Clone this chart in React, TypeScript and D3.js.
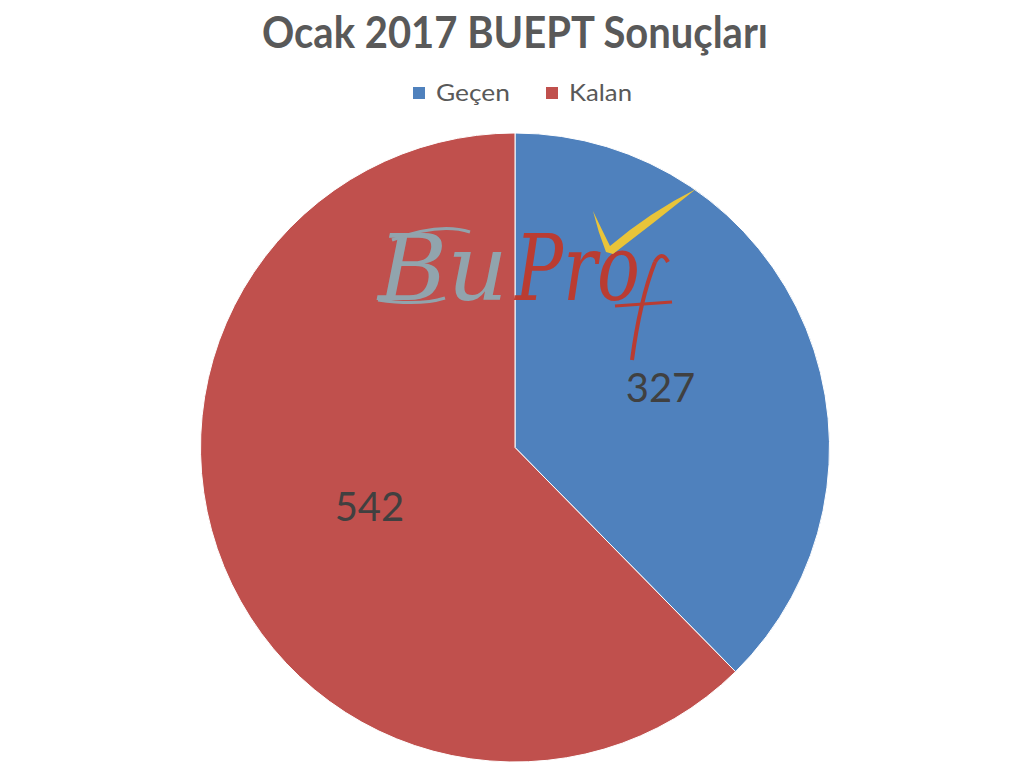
import React from "react";
import * as d3 from "d3";

const title = "Ocak 2017 BUEPT Sonuçları";
const categories = ["Geçen", "Kalan"];
const values = [327, 542];
const colors = ["#4F81BD", "#C0504D"];

const W = 1010;
const H = 772;
const cx = 515;
const cy = 447.5;
const R = 314.5;

export default function App() {
  const pie = d3.pie<number>().sort(null).value((d) => d)(values);
  const arc = d3.arc<d3.PieArcDatum<number>>().innerRadius(0).outerRadius(R);
  const labelArc = d3.arc<d3.PieArcDatum<number>>().innerRadius(R * 0.5).outerRadius(R * 0.5);

  const legendX = [413, 546];
  const legendTextLen = [74, 63];

  return (
    <svg width={W} height={H} style={{ position: "fixed", left: 0, top: 0, background: "#fff" }}
      fontFamily="Lato, 'Open Sans', sans-serif">
      <text x={515} y={48} textAnchor="middle" fontSize={43} fontWeight="bold" fill="#595959"
        textLength={506} lengthAdjust="spacingAndGlyphs">{title}</text>
      {categories.map((c, i) => (
        <g key={c}>
          <rect x={legendX[i]} y={87} width={12} height={12} fill={colors[i]} />
          <text x={legendX[i] + 23} y={101} fontSize={23} fill="#595959"
            textLength={legendTextLen[i]} lengthAdjust="spacingAndGlyphs">{c}</text>
        </g>
      ))}
      <g transform={`translate(${cx},${cy})`}>
        {pie.map((p, i) => (
          <path key={i} d={arc(p) || ""} fill={colors[i]} stroke="#fff" strokeWidth={1} />
        ))}
      </g>
      {/* BuProf watermark */}
      <g opacity={0.95}>
        <text x={378} y={300} fontSize={92} fontStyle="italic" fontFamily="'DejaVu Serif', serif"
          fill="#8FA9B3" textLength={130} lengthAdjust="spacingAndGlyphs">Bu</text>
        <path d="M392,240 Q440,222 470,232" stroke="#8FA9B3" strokeWidth={3} fill="none" />
        <path d="M378,300 Q420,306 445,298" stroke="#8FA9B3" strokeWidth={3} fill="none" />
        <text x={515} y={300} fontSize={92} fontStyle="italic" fontFamily="'DejaVu Serif', serif"
          fill="#C0392B" textLength={125} lengthAdjust="spacingAndGlyphs">Pro</text>
        <path d="M655,262 Q640,300 632,360" stroke="#C0392B" strokeWidth={4} fill="none" />
        <path d="M655,262 Q662,250 668,262" stroke="#C0392B" strokeWidth={4} fill="none" />
        <path d="M615,306 L672,302" stroke="#C0392B" strokeWidth={3} fill="none" />
        <path d="M593,211 Q603,232 610,246 Q650,212 696,189 Q655,222 613,254 L606,252 Q598,232 593,211 Z"
          fill="#F2C832" />
      </g>
      <g transform={`translate(${cx},${cy})`}>
        {pie.map((p, i) => {
          const [x, y] = labelArc.centroid(p);
          return (
            <text key={i} x={x} y={y} dy="0.36em" textAnchor="middle" fontSize={40} fill="#404040">
              {values[i]}
            </text>
          );
        })}
      </g>
    </svg>
  );
}
